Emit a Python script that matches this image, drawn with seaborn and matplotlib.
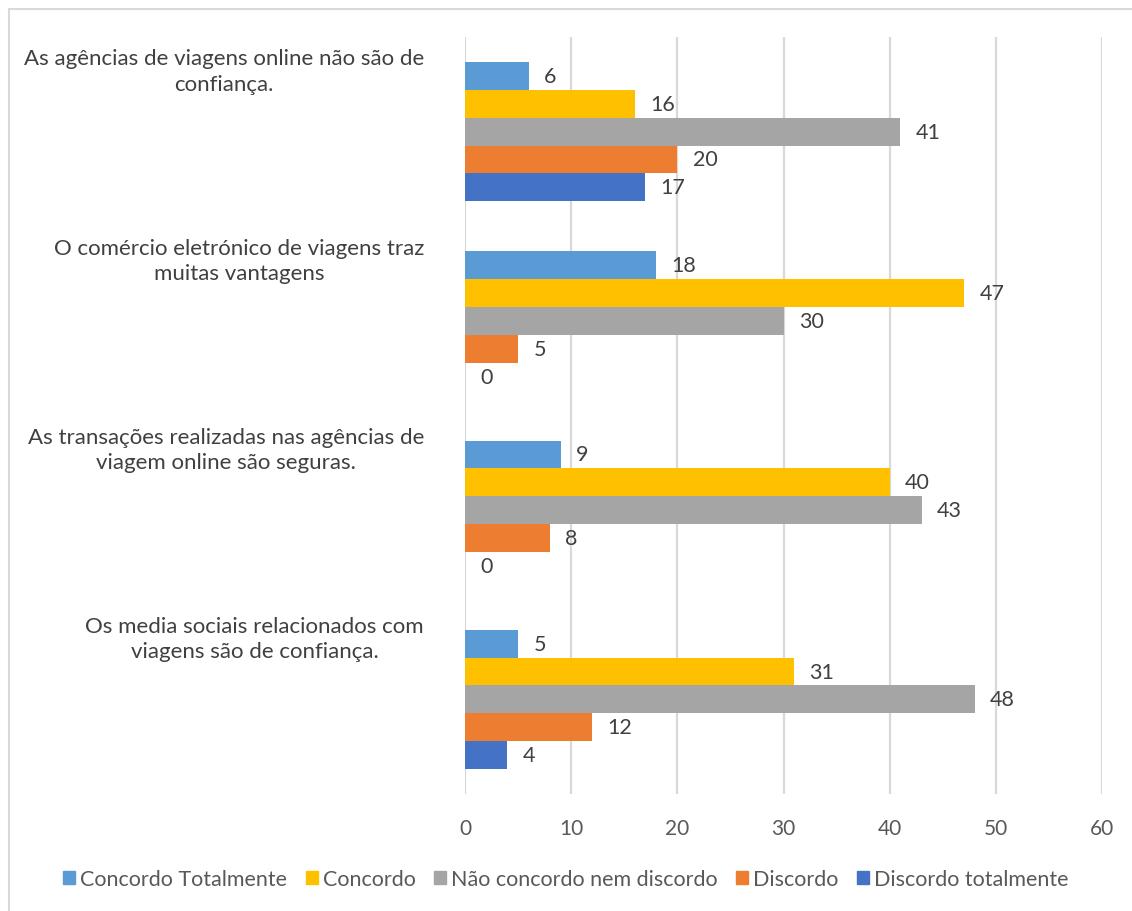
import matplotlib
matplotlib.use("Agg")
import matplotlib.pyplot as plt
import matplotlib.patches as mpatches
from matplotlib.transforms import blended_transform_factory
import seaborn as sns
import pandas as pd

# Survey statements (top to bottom) and the share of answers per option
statements = [
    "As agências de viagens online não são de\nconfiança.",
    "O comércio eletrónico de viagens traz\nmuitas vantagens",
    "As transações realizadas nas agências de\nviagem online são seguras.",
    "Os media sociais relacionados com\nviagens são de confiança.",
]
options = ["Concordo Totalmente", "Concordo", "Não concordo nem discordo",
           "Discordo", "Discordo totalmente"]
concordo_totalmente = [6, 18, 9, 5]
concordo = [16, 47, 40, 31]
neutro = [41, 30, 43, 48]
discordo = [20, 5, 8, 12]
discordo_totalmente = [17, 0, 0, 4]
x_ticks = [0, 10, 20, 30, 40, 50, 60]

palette = ["#5B9BD5", "#FFC000", "#A5A5A5", "#ED7D31", "#4472C4"]

series = [concordo_totalmente, concordo, neutro, discordo, discordo_totalmente]
rows = []
for opt, vals in zip(options, series):
    for st, v in zip(statements, vals):
        rows.append({"statement": st, "option": opt, "value": v})
df = pd.DataFrame(rows)

sns.set_theme(style="white")
plt.rcParams["font.family"] = ["Lato", "DejaVu Sans"]

fig = plt.figure(figsize=(11.32, 9.12), dpi=100)
ax = fig.add_axes([465 / 1132, 1 - 795 / 912, 637 / 1132, 757 / 912])

sns.barplot(data=df, x="value", y="statement", hue="option",
            order=statements, hue_order=options, palette=palette,
            orient="h", width=0.735, saturation=1, linewidth=0,
            legend=False, ax=ax, errorbar=None)

# value labels at the end of each bar
for container in ax.containers:
    ax.bar_label(container, labels=[f"{int(b.get_width())}" for b in container],
                 padding=11, fontsize=15.5, color="#404040")

ax.set_xlim(0, 60)
ax.set_xticks(x_ticks)
ax.set_xticklabels([str(t) for t in x_ticks])
ax.tick_params(axis="x", colors="#595959", labelsize=15, length=0, pad=17)
ax.set_xlabel("")
ax.set_ylabel("")
ax.set_yticks([])
ax.grid(axis="x", color="#D9D9D9", linewidth=1.6)
ax.set_axisbelow(True)
for sp in ax.spines.values():
    sp.set_visible(False)

# category labels sit near the top of each group
trans = blended_transform_factory(ax.transAxes, ax.transData)
for i, st in enumerate(statements):
    ax.text(-41 / 637, i - 0.44, st, transform=trans, ha="right", va="top",
            multialignment="center", fontsize=16, color="#404040",
            linespacing=1.33)

handles = [mpatches.Patch(color=c, label=o) for c, o in zip(palette, options)]
fig.legend(handles=handles, loc="center", bbox_to_anchor=(0.5, 1 - 880 / 912),
           ncol=5, frameon=False, fontsize=15.5, handlelength=0.55,
           handleheight=0.55, handletextpad=0.25, columnspacing=0.85,
           labelcolor="#595959")

# chart area border
fig.patches.append(mpatches.Rectangle((9 / 1132, -0.1), 1.2, 1 - 9.5 / 912 + 0.1,
                                      transform=fig.transFigure, fill=False,
                                      edgecolor="#D9D9D9", linewidth=1.5))

fig.savefig("out.png", dpi=100)
